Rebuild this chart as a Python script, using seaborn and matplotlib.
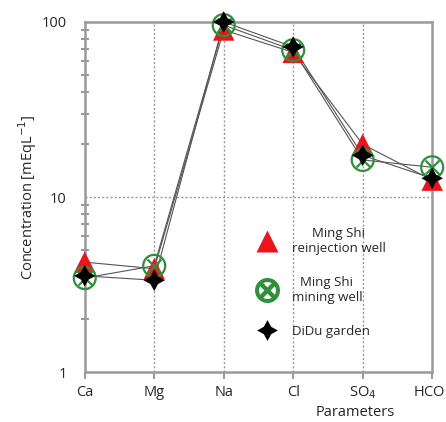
import numpy as np
import pandas as pd
import matplotlib
matplotlib.use('Agg')
import matplotlib.pyplot as plt
import seaborn as sns
from matplotlib.lines import Line2D
from matplotlib.ticker import LogLocator, NullFormatter, FixedLocator

# Parameters on the x axis
categories = ['Ca', 'Mg', 'Na', 'Cl', 'SO$_4$', 'HCO$_3$']

# Concentrations (mEq/L)
reinjection = [4.25, 3.9, 90, 67, 20.0, 12.5]
mining = [3.45, 4.05, 96, 69, 16.3, 14.8]
didu = [3.55, 3.35, 100, 72, 17.3, 12.8]

x = np.arange(len(categories))
df = pd.concat([
    pd.DataFrame({'x': x, 'value': reinjection, 'site': 'reinjection'}),
    pd.DataFrame({'x': x, 'value': mining, 'site': 'mining'}),
    pd.DataFrame({'x': x, 'value': didu, 'site': 'didu'}),
])

sns.set_style('white')
plt.rcParams['font.family'] = ['Open Sans', 'DejaVu Sans']

fig = plt.figure(figsize=(4.46, 4.22), dpi=100)
ax = fig.add_axes([0.19, 0.118, 0.779, 0.83])

# connecting lines
for site in ['reinjection', 'mining', 'didu']:
    sub = df[df['site'] == site]
    sns.lineplot(data=sub, x='x', y='value', color='#555555', lw=0.8,
                 sort=False, ax=ax, zorder=2, estimator=None)

# markers
red = '#e8161c'
green = '#2f8f3c'
sub = df[df['site'] == 'reinjection']
sns.scatterplot(data=sub, x='x', y='value', marker='^', s=240, color=red,
                edgecolor='none', ax=ax, zorder=3, clip_on=False)
sub = df[df['site'] == 'mining']
sns.scatterplot(data=sub, x='x', y='value', marker='o', s=250, facecolor='none',
                edgecolor=green, linewidth=1.6, ax=ax, zorder=4, clip_on=False)
sns.scatterplot(data=sub, x='x', y='value', marker='x', s=100, color=green,
                linewidth=1.6, ax=ax, zorder=4, clip_on=False)
sub = df[df['site'] == 'didu']
sns.scatterplot(data=sub, x='x', y='value', marker=(4, 1, 0), s=240, color='black',
                edgecolor='none', ax=ax, zorder=5, clip_on=False)

ax.set_yscale('log')
ax.set_ylim(1, 100)
ax.set_xlim(0, len(categories) - 1)
ax.set_xticks(x)
ax.set_xticklabels(categories, fontsize=10.5)
ax.yaxis.set_major_locator(FixedLocator([1, 10, 100]))
ax.set_yticklabels(['1', '10', '100'], fontsize=10.5)
ax.yaxis.set_minor_locator(LogLocator(base=10, subs=np.arange(2, 10)))
ax.yaxis.set_minor_formatter(NullFormatter())

# grid
for xi in x[1:-1]:
    ax.axvline(xi, color='#999999', ls=(0, (1.5, 1.5)), lw=1, zorder=1)
ax.axhline(10, color='#999999', ls=(0, (1.5, 1.5)), lw=1, zorder=1)

for sp in ax.spines.values():
    sp.set_color('#9a9a9a')
    sp.set_linewidth(1.8)

ax.tick_params(axis='y', which='major', direction='out', length=10, width=1.8,
               color='#9a9a9a', pad=3)
ax.tick_params(axis='y', which='minor', direction='inout', length=6, width=1.5,
               color='#9a9a9a', left=True)
ax.tick_params(axis='x', which='major', direction='out', length=5, width=1.5,
               color='#9a9a9a', pad=4, bottom=True)

ax.set_ylabel('Concentration [mEqL$^{-1}$]', fontsize=10.5, labelpad=2)

handles = [
    Line2D([], [], marker='^', ls='none', ms=16, color=red, mec='none'),
    Line2D([], [], marker='$\\otimes$', ls='none', ms=17, color=green),
    Line2D([], [], marker=(4, 1, 0), ls='none', ms=15, color='black', mec='none'),
]
labels = ['Ming Shi\nreinjection well', 'Ming Shi\nmining well', 'DiDu garden']
leg = ax.legend(handles, labels, loc='upper left', bbox_to_anchor=(0.47, 0.43),
                frameon=False, fontsize=9.5, labelspacing=1.6, handletextpad=0.9,
                borderaxespad=0)
for t in leg.get_texts():
    t.set_multialignment('center')

ax.set_xlabel('Parameters', fontsize=10.5)
ax.xaxis.set_label_coords(0.78, -0.095)

fig.savefig('out.png', dpi=100)
